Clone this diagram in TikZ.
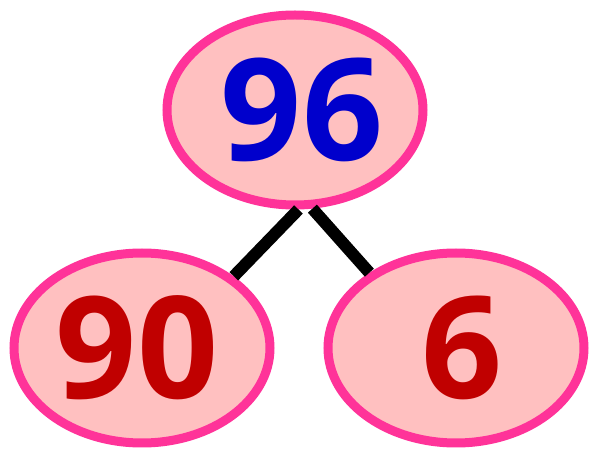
\documentclass[tikz,border=0pt]{standalone}
\usepackage{fontspec}
\newfontfamily\numfont{Open Sans}[BoldFont={Open Sans Bold}]
\usetikzlibrary{shapes.geometric}
\definecolor{pinkfill}{RGB}{255,192,192}
\definecolor{pinkline}{RGB}{255,51,153}
\definecolor{numblue}{RGB}{0,0,204}
\definecolor{numred}{RGB}{192,0,0}
\tikzset{
  oval/.style={ellipse, draw=pinkline, fill=pinkfill, line width=9pt,
    minimum width=256pt, minimum height=190pt, inner sep=0pt,
    font=\numfont\bfseries\fontsize{142}{142}\selectfont},
  link/.style={line width=12pt, black, line cap=butt}
}
\begin{document}
\begin{tikzpicture}[x=1pt,y=1pt]
\useasboundingbox (0,0) rectangle (590,453);
\node[oval, text=numblue] (top) at (295,343) {\hspace*{14pt}96};
\node[oval, text=numred] (left) at (142,105) {90\hspace*{10pt}};
\node[oval, text=numred] (right) at (456,105) {\hspace*{12pt}6};
\draw[link] (top.-88) -- (left.38);
\draw[link] (top.-80) -- (right.139);
\end{tikzpicture}
\end{document}
